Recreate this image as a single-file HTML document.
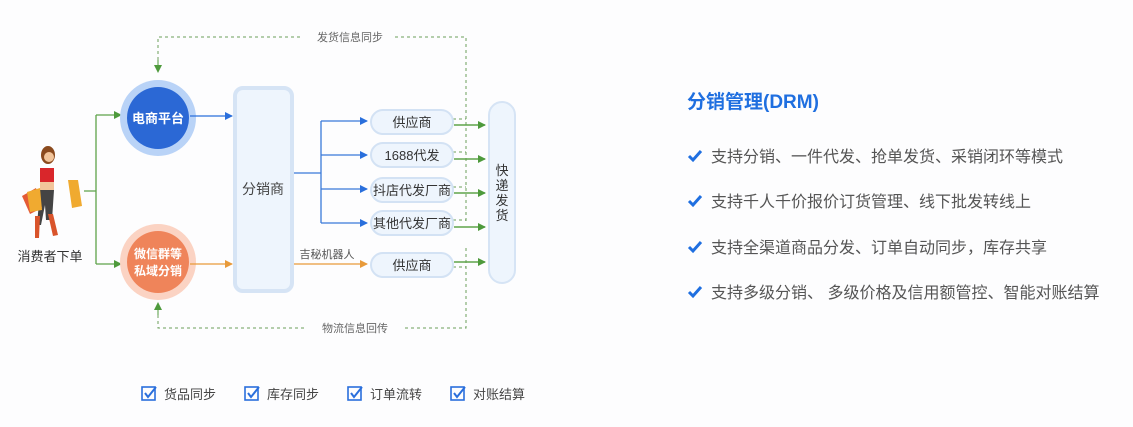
<!DOCTYPE html>
<html><head><meta charset="utf-8"><style>
html,body{margin:0;padding:0;background:#fdfdfe;}
body{width:1133px;height:422px;overflow:hidden;font-family:"Liberation Sans","Noto Sans CJK SC",sans-serif;}
</style></head><body>
<svg width="1133" height="422" viewBox="0 0 1133 422" xmlns="http://www.w3.org/2000/svg" font-family="Liberation Sans, Noto Sans CJK SC, sans-serif">
<defs>
<marker id="ag" markerWidth="8" markerHeight="8" refX="7" refY="4" orient="auto" markerUnits="userSpaceOnUse"><path d="M0,0 L8,4 L0,8z" fill="#4e9a3c"/></marker>
<marker id="ab" markerWidth="8" markerHeight="8" refX="7" refY="4" orient="auto" markerUnits="userSpaceOnUse"><path d="M0,0 L8,4 L0,8z" fill="#2a6fdc"/></marker>
<marker id="ao" markerWidth="8" markerHeight="8" refX="7" refY="4" orient="auto" markerUnits="userSpaceOnUse"><path d="M0,0 L8,4 L0,8z" fill="#e89a3a"/></marker>
</defs>
<g stroke="#6aa05a" stroke-width="1" stroke-dasharray="3,3" fill="none">
<path d="M158,72 V37 H302"/><path d="M395,37 H466 V222"/>
<path d="M158,303 V328 H305"/><path d="M405,328 H466 V247"/>
<path d="M453,119 H466 M453,152 H466 M453,187 H466 M453,220 H466 M453,267 H466"/>
</g>
<path d="M158,60 V72" stroke="#4e9a3c" marker-end="url(#ag)"/>
<path d="M158,315 V303" stroke="#4e9a3c" marker-end="url(#ag)"/>
<text x="350" y="41" font-size="11" fill="#666" text-anchor="middle">发货信息同步</text>
<text x="355" y="332" font-size="11" fill="#666" text-anchor="middle">物流信息回传</text>
<g stroke="#5ea34a" stroke-width="1.3" fill="none">
<path d="M84,191 H96 M96,115 V264"/>
<path d="M96,115 H121" marker-end="url(#ag)"/>
<path d="M96,264 H121" marker-end="url(#ag)"/>
</g>
<circle cx="158" cy="118" r="38" fill="#b9d3f7"/>
<circle cx="158" cy="118" r="31" fill="#2b68d5"/>
<text x="158" y="123" font-size="13" fill="#fff" text-anchor="middle" font-weight="bold">电商平台</text>
<circle cx="158" cy="262" r="38" fill="#fbd3c3"/>
<circle cx="158" cy="262" r="31" fill="#ef845a"/>
<text x="158" y="258" font-size="12" fill="#fff" text-anchor="middle" font-weight="bold">微信群等</text>
<text x="158" y="275" font-size="12" fill="#fff" text-anchor="middle" font-weight="bold">私域分销</text>
<path d="M190,116 H232" stroke="#2a6fdc" stroke-width="1.3" marker-end="url(#ab)"/>
<path d="M190,264 H232" stroke="#e89a3a" stroke-width="1.3" marker-end="url(#ao)"/>
<rect x="235" y="88" width="57" height="203" rx="8" fill="#eef5fd" stroke="#d6e4f5" stroke-width="4"/>
<text x="263" y="194" font-size="14" fill="#444" text-anchor="middle">分销商</text>
<g stroke="#3a7ad9" stroke-width="1.3" fill="none">
<path d="M294,173 H321 M321,121 V223"/>
<path d="M321,121 H367" marker-end="url(#ab)"/>
<path d="M321,155 H367" marker-end="url(#ab)"/>
<path d="M321,189 H367" marker-end="url(#ab)"/>
<path d="M321,223 H367" marker-end="url(#ab)"/>
</g>
<path d="M294,264 H367" stroke="#e89a3a" stroke-width="1.3" marker-end="url(#ao)"/>
<text x="327" y="258" font-size="11" fill="#555" text-anchor="middle">吉秘机器人</text>
<g fill="#eef5fd" stroke="#d3e2f4" stroke-width="2">
<rect x="371" y="110" width="82" height="24" rx="12"/>
<rect x="371" y="143" width="82" height="24" rx="12"/>
<rect x="371" y="178" width="82" height="24" rx="12"/>
<rect x="371" y="211" width="82" height="24" rx="12"/>
<rect x="371" y="253" width="82" height="24" rx="12"/>
</g>
<g font-size="13" fill="#333" text-anchor="middle">
<text x="412" y="127">供应商</text>
<text x="412" y="160">1688代发</text>
<text x="412" y="195">抖店代发厂商</text>
<text x="412" y="228">其他代发厂商</text>
<text x="412" y="270">供应商</text>
</g>
<g stroke="#5ea34a" stroke-width="1.5">
<path d="M454,125 H485" marker-end="url(#ag)"/>
<path d="M454,159 H485" marker-end="url(#ag)"/>
<path d="M454,193 H485" marker-end="url(#ag)"/>
<path d="M454,227 H485" marker-end="url(#ag)"/>
<path d="M454,262 H485" marker-end="url(#ag)"/>
</g>
<rect x="489" y="102" width="26" height="181" rx="13" fill="#eef5fd" stroke="#d6e4f5" stroke-width="2"/>
<g font-size="13" fill="#333" text-anchor="middle">
<text x="502" y="175">快</text><text x="502" y="190">递</text><text x="502" y="205">发</text><text x="502" y="220">货</text>
</g>
<g>
<ellipse cx="48" cy="155" rx="7" ry="9" fill="#8b4a1e"/>
<circle cx="49" cy="157" r="5" fill="#f2c49a"/>
<rect x="40" y="168" width="14" height="14" fill="#d9262b"/>
<rect x="40" y="182" width="14" height="8" fill="#f2c49a"/>
<path d="M40,190 L54,190 L52,220 L46,220 L45,205 L41,225 L37,225 z" fill="#444"/>
<path d="M35,216 L40,216 L39,238 L35,238z M48,214 L53,214 L58,235 L53,236z" fill="#d9542b"/>
<path d="M22,196 L36,188 L42,208 L30,214z" fill="#e45b36"/>
<path d="M27,192 L40,188 L42,210 L30,212z" fill="#f0aa30"/>
<path d="M68,180 L78,180 L82,206 L72,208z" fill="#f0aa30"/>
</g>
<text x="50" y="261" font-size="13" fill="#333" text-anchor="middle">消费者下单</text>
<g font-size="13" fill="#444">
<g transform="translate(142,387)"><rect x="0" y="0" width="13" height="13" fill="none" stroke="#2a6fdc" stroke-width="1.6"/><path d="M3,6 L6,10 L14,0" stroke="#2a6fdc" stroke-width="2" fill="none"/><text x="22" y="12">货品同步</text></g>
<g transform="translate(245,387)"><rect x="0" y="0" width="13" height="13" fill="none" stroke="#2a6fdc" stroke-width="1.6"/><path d="M3,6 L6,10 L14,0" stroke="#2a6fdc" stroke-width="2" fill="none"/><text x="22" y="12">库存同步</text></g>
<g transform="translate(348,387)"><rect x="0" y="0" width="13" height="13" fill="none" stroke="#2a6fdc" stroke-width="1.6"/><path d="M3,6 L6,10 L14,0" stroke="#2a6fdc" stroke-width="2" fill="none"/><text x="22" y="12">订单流转</text></g>
<g transform="translate(451,387)"><rect x="0" y="0" width="13" height="13" fill="none" stroke="#2a6fdc" stroke-width="1.6"/><path d="M3,6 L6,10 L14,0" stroke="#2a6fdc" stroke-width="2" fill="none"/><text x="22" y="12">对账结算</text></g>
</g>
<text x="687" y="108" font-size="19" font-weight="bold" fill="#1f6fe0">分销管理(DRM)</text>
<g font-size="16" fill="#555">
<g transform="translate(688,150)"><path d="M1,6 L5,10 L13,1" stroke="#1f6fe0" stroke-width="3" fill="none"/><text x="23" y="12">支持分销、一件代发、抢单发货、采销闭环等模式</text></g>
<g transform="translate(688,195)"><path d="M1,6 L5,10 L13,1" stroke="#1f6fe0" stroke-width="3" fill="none"/><text x="23" y="12">支持千人千价报价订货管理、线下批发转线上</text></g>
<g transform="translate(688,241)"><path d="M1,6 L5,10 L13,1" stroke="#1f6fe0" stroke-width="3" fill="none"/><text x="23" y="12">支持全渠道商品分发、订单自动同步，库存共享</text></g>
<g transform="translate(688,286)"><path d="M1,6 L5,10 L13,1" stroke="#1f6fe0" stroke-width="3" fill="none"/><text x="23" y="12">支持多级分销、 多级价格及信用额管控、智能对账结算</text></g>
</g>
</svg>
</body></html>
